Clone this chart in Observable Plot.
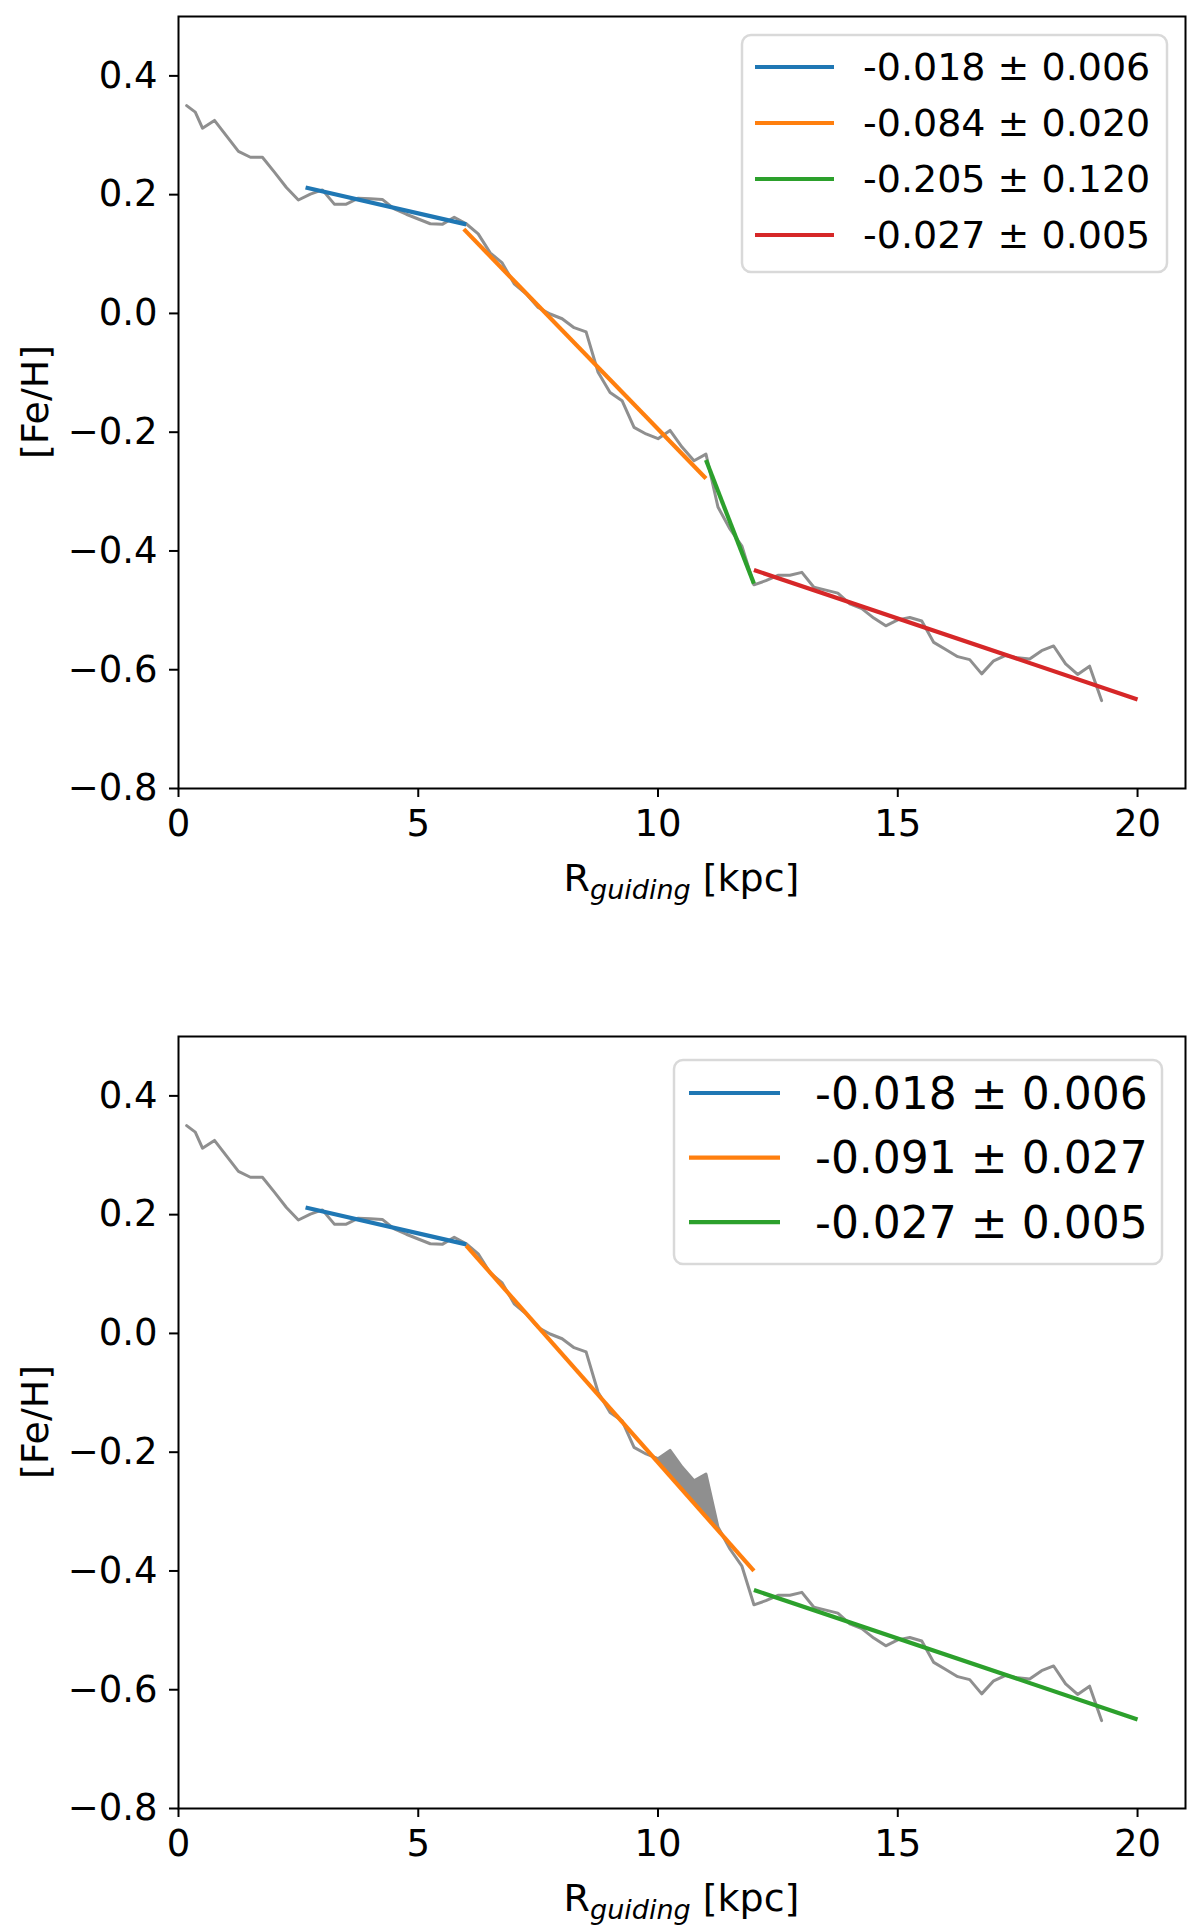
<!DOCTYPE html>
<html>
<head>
<meta charset="utf-8">
<script src="https://cdn.jsdelivr.net/npm/d3@7"></script>
<script src="https://cdn.jsdelivr.net/npm/@observablehq/plot@0.6"></script>
<style>
  html, body { margin: 0; padding: 0; background: #fff; }
  #wrap { width: 1200px; }
  #wrap svg { display: block; }
</style>
</head>
<body>
<div id="wrap"></div>
<script>
// ---- data ----
const R = [0.17, 0.35, 0.5, 0.75, 1.0, 1.25, 1.5, 1.75, 2.0, 2.25, 2.5, 2.75, 3.0, 3.25, 3.5, 3.75,
  4.0, 4.25, 4.5, 4.75, 5.0, 5.25, 5.5, 5.75, 6.0, 6.25, 6.5, 6.75, 7.0, 7.25, 7.5, 7.75,
  8.0, 8.25, 8.5, 8.75, 9.0, 9.25, 9.5, 9.75, 10.0, 10.25, 10.5, 10.75, 11.0, 11.25, 11.5, 11.75,
  12.0, 12.25, 12.5, 12.75, 13.0, 13.25, 13.5, 13.75, 14.0, 14.25, 14.5, 14.75, 15.0, 15.25, 15.5, 15.75,
  16.0, 16.25, 16.5, 16.75, 17.0, 17.25, 17.5, 17.75, 18.0, 18.25, 18.5, 18.75, 19.0, 19.25];
const FEH = [0.350, 0.339, 0.312, 0.325, 0.299, 0.273, 0.263, 0.263, 0.238, 0.212, 0.191, 0.201, 0.208, 0.184, 0.184, 0.194,
  0.193, 0.192, 0.176, 0.167, 0.159, 0.151, 0.150, 0.162, 0.151, 0.134, 0.102, 0.085, 0.050, 0.033, 0.010, -0.001,
  -0.009, -0.024, -0.031, -0.099, -0.133, -0.147, -0.192, -0.203, -0.211, -0.197, -0.225, -0.248, -0.237, -0.326, -0.363, -0.392,
  -0.457, -0.450, -0.441, -0.441, -0.436, -0.461, -0.466, -0.471, -0.489, -0.497, -0.513, -0.526, -0.516, -0.512, -0.518, -0.554,
  -0.566, -0.578, -0.583, -0.607, -0.585, -0.576, -0.580, -0.582, -0.568, -0.560, -0.590, -0.608, -0.594, -0.652];

const xTicks = [0, 5, 10, 15, 20];
const yTicks = [0.4, 0.2, 0.0, -0.2, -0.4, -0.6, -0.8];

// top panel fits
const topLabels = ["-0.018 \u00b1 0.006", "-0.084 \u00b1 0.020", "-0.205 \u00b1 0.120", "-0.027 \u00b1 0.005"];
const topX0 = [2.65, 5.95, 11.0, 12.0];
const topX1 = [6.0, 11.0, 12.0, 20.0];
const topY0 = [0.212, 0.142, -0.247, -0.432];
const topY1 = [0.150, -0.278, -0.455, -0.650];

// bottom panel fits
const botLabels = ["-0.018 \u00b1 0.006", "-0.091 \u00b1 0.027", "-0.027 \u00b1 0.005"];
const botX0 = [2.65, 6.0, 12.0];
const botX1 = [6.0, 12.0, 20.0];
const botY0 = [0.212, 0.148, -0.432];
const botY1 = [0.150, -0.400, -0.650];

const fitColors = ["#1f77b4", "#ff7f0e", "#2ca02c", "#d62728"];
const grey = "#8f8f8f";
const FONT = "DejaVu Sans";

const profile = R.map((r, i) => ({r, feh: FEH[i]}));

function fitTable(labels, x0, x1, y0, y1) {
  return labels.map((l, i) => ({label: l, x0: x0[i], x1: x1[i], y0: y0[i], y1: y1[i], color: fitColors[i]}));
}

function panel({fits, mt, mb, fill, legend}) {
  const W = 1200, H = 965, ml = 178, mr = 15;
  const marks = [
    Plot.line(profile, {x: "r", y: "feh", stroke: grey, strokeWidth: 3}),
  ];
  if (fill) {
    const f = fill.fit;
    const fitAt = r => f.y0 + (r - f.x0) * (f.y1 - f.y0) / (f.x1 - f.x0);
    const fd = profile.filter(d => d.r >= fill.lo && d.r <= fill.hi && d.feh > fitAt(d.r))
      .map(d => ({r: d.r, lo: fitAt(d.r), hi: d.feh}));
    marks.push(Plot.areaY(fd, {x: "r", y1: "lo", y2: "hi", fill: grey, fillOpacity: 1}));
  }
  marks.push(
    Plot.link(fits, {x1: "x0", y1: "y0", x2: "x1", y2: "y1", stroke: "color", strokeWidth: 4.2}),
    Plot.frame({stroke: "black", strokeWidth: 2}),
    Plot.axisX({ticks: xTicks, tickSize: 9, tickPadding: 12, strokeWidth: 2, fontSize: 37,
      tickFormat: d => String(d), label: null}),
    Plot.axisY({ticks: yTicks, tickSize: 9, tickPadding: 12, strokeWidth: 2, fontSize: 37,
      tickFormat: d3.format(".1f"), label: null})
  );
  const svg = Plot.plot({
    width: W, height: H,
    marginLeft: ml, marginRight: mr, marginTop: mt, marginBottom: mb,
    x: {domain: [0, 21]},
    y: {domain: [-0.8, 0.5]},
    color: {type: "identity"},
    style: {fontFamily: FONT, color: "black", background: "white", overflow: "visible"},
    marks
  });
  const s = d3.select(svg);
  const bottom = H - mb;
  const cx = ml + (W - ml - mr) / 2;
  // x label with italic subscript
  const xl = s.append("text")
    .attr("x", cx).attr("y", bottom + 103)
    .attr("text-anchor", "middle")
    .attr("font-family", FONT).attr("font-size", 38).attr("fill", "black");
  xl.append("tspan").text("R");
  xl.append("tspan").attr("font-style", "italic").attr("font-size", 27).attr("dy", 8).text("guiding");
  xl.append("tspan").attr("dy", -8).text("\u00a0[kpc]");
  // y label
  const cy = mt + (bottom - mt) / 2;
  s.append("text")
    .attr("transform", `translate(35,${cy}) rotate(-90)`)
    .attr("text-anchor", "middle").attr("dominant-baseline", "central")
    .attr("font-family", FONT).attr("font-size", 38).attr("fill", "black")
    .text("[Fe/H]");
  // legend
  const L = legend;
  const g = s.append("g").attr("text-anchor", "start");
  g.append("rect")
    .attr("x", L.x).attr("y", L.y).attr("width", L.w).attr("height", L.h)
    .attr("rx", 9).attr("ry", 9)
    .attr("fill", "white").attr("fill-opacity", 0.8)
    .attr("stroke", "#d9d9d9").attr("stroke-width", 2.5);
  fits.forEach((d, i) => {
    const y = L.row0 + i * L.dy;
    g.append("line").attr("x1", L.lx0).attr("x2", L.lx1).attr("y1", y).attr("y2", y)
      .attr("stroke", d.color).attr("stroke-width", 4.2);
    g.append("text").attr("x", L.tx).attr("y", y)
      .attr("text-anchor", "start")
      .attr("dominant-baseline", "central")
      .attr("font-family", FONT).attr("font-size", L.fs).attr("fill", "black")
      .text(d.label);
  });
  return svg;
}

const wrap = document.getElementById("wrap");
const topFits = fitTable(topLabels, topX0, topX1, topY0, topY1);
const botFits = fitTable(botLabels, botX0, botX1, botY0, botY1);

wrap.appendChild(panel({
  fits: topFits, mt: 16, mb: 177,
  legend: {x: 742, y: 35, w: 425, h: 237, lx0: 755, lx1: 834, tx: 863, row0: 67, dy: 56, fs: 38}
}));
wrap.appendChild(panel({
  fits: botFits, mt: 71, mb: 122,
  fill: {fit: botFits[1], lo: 9.5, hi: 11.5},
  legend: {x: 674, y: 95, w: 488, h: 204, lx0: 689, lx1: 780, tx: 815, row0: 128, dy: 64.6, fs: 44}
}));
</script>
</body>
</html>
